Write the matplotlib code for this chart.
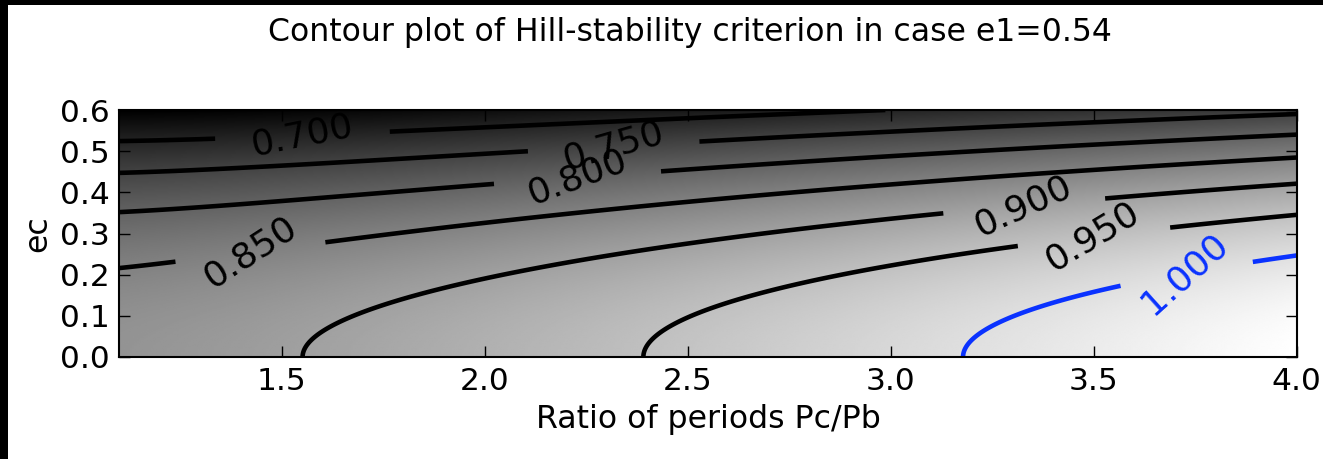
import numpy as np
import matplotlib
matplotlib.use('Agg')
import matplotlib.pyplot as plt
from matplotlib.patches import Rectangle

# ---- data / parameters ----
e1 = 0.54                      # eccentricity of inner planet
mu_inner = 0.001               # inner planet mass / stellar mass
mu_outer = 0.002               # outer planet mass / stellar mass
period_ratio = np.linspace(1.1, 4.0, 500)   # Pc/Pb axis
ec_values = np.linspace(0.0, 0.6, 400)      # ec axis
levels_black = [0.70, 0.75, 0.80, 0.85, 0.90, 0.95]
levels_blue = [1.00]
x_ticks = [1.5, 2.0, 2.5, 3.0, 3.5, 4.0]
y_ticks = [0.0, 0.1, 0.2, 0.3, 0.4, 0.5, 0.6]
title = "Contour plot of Hill-stability criterion in case e1=0.54"
xlabel = "Ratio of periods Pc/Pb"
ylabel = "ec"

# label anchor points (layout)
label_pos_black = [(1.55, 0.54), (2.32, 0.51), (2.23, 0.435),
                   (1.43, 0.253), (3.336, 0.364), (3.51, 0.289)]
label_pos_blue = [(3.72, 0.204)]

# ---- Hill stability criterion (Gladman 1993) ----
P, E = np.meshgrid(period_ratio, ec_values)
delta = P ** (1.0 / 3.0)
g1 = np.sqrt(1 - e1 ** 2)
g2 = np.sqrt(1 - E ** 2)
alpha = mu_inner + mu_outer
lhs = (mu_inner + mu_outer / delta ** 2) * (mu_inner * g1 + mu_outer * g2 * delta) ** 2 / alpha ** 3
crit = 3 ** (4.0 / 3.0) * mu_inner * mu_outer / alpha ** (4.0 / 3.0)
H = lhs - crit

# ---- figure (labels laid out in an initial frame, then resized) ----
fig = plt.figure(figsize=(10, 10), dpi=100)
ax = fig.add_axes([0.1, 0.05, 0.75, 0.784])
ax.imshow(H, extent=[period_ratio[0], period_ratio[-1], ec_values[0], ec_values[-1]],
          origin='lower', cmap='gray', aspect='auto', interpolation='bilinear')
cs = ax.contour(P, E, H, levels=levels_black, colors='k', linewidths=3.3)
cs2 = ax.contour(P, E, H, levels=levels_blue, colors=['#0a32ff'], linewidths=3.3)
ax.set_xlim(period_ratio[0], period_ratio[-1])
ax.set_ylim(ec_values[0], ec_values[-1])
ax.clabel(cs, fmt='%.3f', fontsize=26, inline=True, manual=label_pos_black)
ax.clabel(cs2, fmt='%.3f', fontsize=26, inline=True, manual=label_pos_blue)

fig.set_size_inches(13.23, 4.59)
ax.set_position([119.3 / 1323, 1 - 357 / 459, (1296.7 - 119.3) / 1323, (357 - 110) / 459])

ax.set_xticks(x_ticks)
ax.set_yticks(y_ticks)
ax.set_xticklabels([f"{v:.1f}" for v in x_ticks])
ax.set_yticklabels([f"{v:.1f}" for v in y_ticks])
ax.tick_params(direction='in', top=True, right=True, length=8, width=1,
               labelsize=22.5, pad=7, colors='k')
for s in ax.spines.values():
    s.set_linewidth(1.5)
ax.set_title(title, fontsize=22.7, pad=50)
ax.title.set_x((689.5 - 119.3) / (1296.7 - 119.3))
ax.set_xlabel(xlabel, fontsize=22.7, labelpad=6)
ax.set_ylabel(ylabel, fontsize=22.7, labelpad=5)

# black frame remnants at left and top edges
fig.add_artist(Rectangle((0, 0), 8 / 1323, 1, transform=fig.transFigure,
                         facecolor='k', edgecolor='none', zorder=10))
fig.add_artist(Rectangle((0, 1 - 5 / 459), 1, 5 / 459, transform=fig.transFigure,
                         facecolor='k', edgecolor='none', zorder=10))

fig.savefig('out.png', dpi=100, facecolor='white')
